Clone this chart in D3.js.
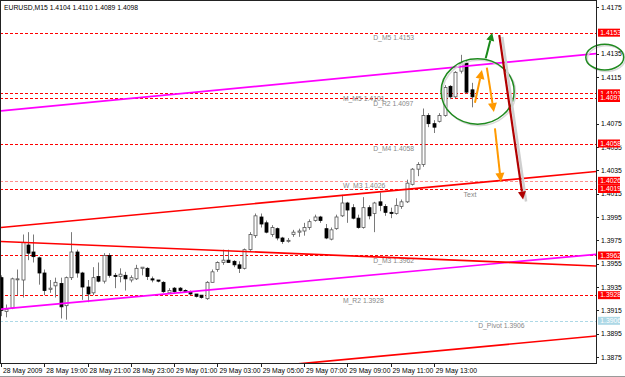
<!DOCTYPE html>
<html>
<head>
<meta charset="utf-8">
<script src="https://cdn.jsdelivr.net/npm/d3@7"></script>
<style>
    body { margin: 0; background: #fff; }
    text { font-family: "Liberation Sans", Arial, sans-serif; }
</style>
</head>
<body>
<svg id="chart" width="625" height="377"></svg>
<script>
// --- data -------------------------------------------------------------
const symbol = 'EURUSD,M15';

const opens = [1.3943,1.3914,1.3917,1.3942,1.3941,1.3971,1.3965,1.3960,1.3947,1.3933,
               1.3936,1.3938,1.3919,1.3943,1.3965,1.3947,1.3935,1.3930,1.3944,1.3940,
               1.3962,1.3945,1.3944,1.3945,1.3941,1.3942,1.3951,1.3951,1.3942,1.3941,
               1.3939,1.3930,1.3934,1.3934,1.3932,1.3931,1.3929,1.3928,1.3925,1.3939,
               1.3950,1.3956,1.3958,1.3957,1.3954,1.3951,1.3967,1.3979,1.3995,1.3990,
               1.3980,1.3985,1.3977,1.3975,1.3980,1.3982,1.3983,1.3986,1.3992,1.3995,
               1.3985,1.3976,1.3985,1.3996,1.4007,1.4003,1.3994,1.3986,1.4003,1.3998,
               1.4008,1.4004,1.3999,1.3998,1.4004,1.4008,1.4023,1.4036,1.4040,1.4082,
               1.4075,1.4077,1.4082,1.4107,1.4098,1.4120,1.4127,1.4104];
const highs = [1.3945,1.3920,1.3943,1.3950,1.3980,1.3982,1.3980,1.3961,1.3950,1.3941,
               1.3943,1.3943,1.3944,1.3982,1.3967,1.3948,1.3941,1.3952,1.3956,1.3964,
               1.3964,1.3947,1.3951,1.3948,1.3945,1.3954,1.3952,1.3952,1.3944,1.3941,
               1.3940,1.3934,1.3935,1.3935,1.3933,1.3932,1.3929,1.3928,1.3940,1.3950,
               1.3957,1.3967,1.3967,1.3958,1.3957,1.3968,1.3982,1.3998,1.3998,1.3992,
               1.3988,1.3986,1.3978,1.3977,1.3984,1.3985,1.3990,1.3993,1.3997,1.3996,
               1.3989,1.3986,1.3997,1.4014,1.4008,1.4006,1.3997,1.4012,1.4005,1.4008,
               1.4016,1.4006,1.4003,1.4011,1.4010,1.4027,1.4037,1.4042,1.4088,1.4084,
               1.4078,1.4084,1.4108,1.4108,1.4120,1.4134,1.4129,1.4110];
const lows =  [1.3910,1.3909,1.3916,1.3928,1.3926,1.3958,1.3956,1.3937,1.3928,1.3930,
               1.3926,1.3908,1.3907,1.3941,1.3943,1.3924,1.3922,1.3928,1.3939,1.3938,
               1.3943,1.3934,1.3939,1.3932,1.3939,1.3941,1.3945,1.3941,1.3939,1.3939,
               1.3930,1.3929,1.3930,1.3931,1.3930,1.3928,1.3926,1.3925,1.3924,1.3939,
               1.3948,1.3954,1.3956,1.3952,1.3947,1.3950,1.3966,1.3977,1.3986,1.3981,
               1.3978,1.3975,1.3972,1.3973,1.3978,1.3978,1.3979,1.3984,1.3991,1.3990,
               1.3976,1.3975,1.3984,1.3995,1.3990,1.3993,1.3985,1.3985,1.3993,1.3982,
               1.4000,1.3996,1.3994,1.3997,1.4002,1.4007,1.4022,1.4030,1.4038,1.4072,
               1.4067,1.4076,1.4081,1.4096,1.4097,1.4118,1.4101,1.4089];
const closes = [1.3915,1.3916,1.3942,1.3942,1.3973,1.3964,1.3961,1.3947,1.3932,1.3934,
                1.3939,1.3918,1.3943,1.3965,1.3947,1.3935,1.3929,1.3943,1.3940,1.3962,
                1.3945,1.3944,1.3946,1.3942,1.3943,1.3951,1.3952,1.3944,1.3941,1.3940,
                1.3931,1.3932,1.3931,1.3932,1.3931,1.3929,1.3927,1.3926,1.3939,1.3948,
                1.3956,1.3958,1.3956,1.3954,1.3951,1.3967,1.3980,1.3996,1.3989,1.3982,
                1.3986,1.3977,1.3974,1.3975,1.3982,1.3983,1.3986,1.3991,1.3995,1.3992,
                1.3977,1.3984,1.3995,1.4007,1.4001,1.3994,1.3986,1.4003,1.3996,1.4007,
                1.4005,1.3999,1.3998,1.4005,1.4008,1.4024,1.4036,1.4040,1.4082,1.4075,
                1.4072,1.4082,1.4106,1.4098,1.4119,1.4127,1.4102,1.4098];

// time axis: one label every 8 bars (2 hours of M15)
const timeLabels = ['28 May 2009','28 May 19:00','28 May 21:00','28 May 23:00','29 May 01:00',
                    '29 May 03:00','29 May 05:00','29 May 07:00','29 May 09:00','29 May 11:00','29 May 13:00'];
const timeLabelBars = [0,8,16,24,32,40,48,56,64,72,80];

// 1.4155 and 1.4095 sit fully under the level boxes, so they are not shown
const priceTicks = [1.3875,1.3895,1.3915,1.3935,1.3955,1.3975,1.3995,1.4015,1.4035,1.4055,
                    1.4075,1.4115,1.4135,1.4175];

// pivot levels
const levelNames  = ['D_M5','M_M5','D_R2','D_M4','W_M3','','D_M3','M_R2','D_Pivot'];
const levelPrices = [1.4153,1.4101,1.4097,1.4058,1.4026,1.4019,1.3962,1.3928,1.3906];
const levelTextBars = [68.8,63.2,68.8,68.8,63.2,null,68.8,63.2,88.2];

// trend lines [bar, price] -> [bar, price]
const trendKinds = ['magenta','magenta','red','red','red'];
const trendFrom = [[0,1.4086],[0,1.3916],[0,1.3986],[0,1.3974],[50,1.3867]];
const trendTo   = [[110,1.4135],[110,1.3963],[110,1.4034],[110,1.3953],[110,1.3893]];

// hand drawn annotations (bar, price)
const arrowKinds = ['green','orange','orange','orange','darkred'];
const arrowFrom = [[89.6,1.4131],[87.6,1.4093],[89.8,1.4123],[91.3,1.4071],[92.1,1.4151]];
const arrowTo   = [[90.8,1.4153],[88.9,1.4121],[91.1,1.4085],[92.4,1.4025],[96.5,1.4010]];
const circleCenters = [[88.1,1.41026],[111.6,1.4132]];
const circleRadii = [[6.75,0.0028],[3.5,0.0011]];   // bars, price

// --- drawing ----------------------------------------------------------
const W = 625, H = 377;
const plotRight = 596, plotBottom = 363;
const fs = '6.8px';

const svg = d3.select('#chart');
const x = d3.scaleLinear().domain([0, 110]).range([1, 596.1]);
const y = d3.scaleLinear().domain([1.3875, 1.4175]).range([357, 7]);

svg.append('rect').attr('width', W).attr('height', H).attr('fill', '#fff');

svg.append('defs').append('clipPath').attr('id', 'plot')
    .append('rect').attr('x', 0).attr('y', 0).attr('width', plotRight).attr('height', plotBottom);

const g = svg.append('g').attr('clip-path', 'url(#plot)');

// levels
let levels = levelPrices.map(function (p, i) {
    return {name: levelNames[i], price: p, bar: levelTextBars[i]};
});
function levelColor(d) {
    if (d.name === 'D_Pivot') return '#add8e6';
    if (d.name === 'W_M3') return '#ff8f8f';
    return '#ff0000';
}
g.selectAll('.level').data(levels).enter().append('line')
    .attr('x1', 0).attr('x2', plotRight)
    .attr('y1', d => Math.round(y(d.price)) + 0.5)
    .attr('y2', d => Math.round(y(d.price)) + 0.5)
    .attr('stroke', levelColor)
    .attr('stroke-width', 1)
    .attr('stroke-dasharray', '3,2');

g.selectAll('.levelText').data(levels.filter(d => d.name)).enter().append('text')
    .attr('x', d => x(d.bar))
    .attr('y', d => y(d.price) + 7.5)
    .attr('font-size', fs)
    .attr('fill', '#888')
    .text(d => d.name + ' ' + d.price.toFixed(4));

// candles
let candles = opens.map(function (o, i) {
    return {i: i, o: o, h: highs[i], l: lows[i], c: closes[i]};
});
let cg = g.selectAll('.candle').data(candles).enter().append('g');
cg.append('line')
    .attr('x1', d => Math.round(x(d.i)) + 0.5).attr('x2', d => Math.round(x(d.i)) + 0.5)
    .attr('y1', d => y(d.h)).attr('y2', d => y(d.l))
    .attr('stroke', '#7a7a7a').attr('stroke-width', 1);
cg.append('rect')
    .attr('x', d => Math.round(x(d.i)) - 1)
    .attr('width', 3)
    .attr('y', d => y(Math.max(d.o, d.c)))
    .attr('height', d => Math.max(1, Math.abs(y(d.o) - y(d.c))))
    .attr('fill', d => d.c >= d.o ? '#fff' : '#000')
    .attr('stroke', d => d.c >= d.o ? '#555' : '#000')
    .attr('stroke-width', 0.8);

// trend lines
g.selectAll('.trend').data(trendFrom.map((f, i) => ({f: f, t: trendTo[i], k: trendKinds[i]})))
    .enter().append('line')
    .attr('x1', d => x(d.f[0])).attr('y1', d => y(d.f[1]))
    .attr('x2', d => x(d.t[0])).attr('y2', d => y(d.t[1]))
    .attr('stroke', d => d.k === 'magenta' ? '#ff00ff' : '#ff0000')
    .attr('stroke-width', 1.7);

g.append('text').attr('x', x(85.5)).attr('y', y(1.4012))
    .attr('font-size', '7px').attr('fill', '#888').text('Text');

// annotations
const ann = svg.append('g');
circleCenters.forEach(function (c, i) {
    let rx = x(c[0] + circleRadii[i][0]) - x(c[0]);
    let ry = y(c[1] - circleRadii[i][1]) - y(c[1]);
    ann.append('ellipse').attr('cx', x(c[0]) + 1.5).attr('cy', y(c[1]) + 1.5)
        .attr('rx', rx).attr('ry', ry).attr('fill', 'none').attr('stroke', '#d8d8d8').attr('stroke-width', 1.5);
    ann.append('ellipse').attr('cx', x(c[0])).attr('cy', y(c[1]))
        .attr('rx', rx).attr('ry', ry).attr('fill', 'none').attr('stroke', '#1f8a1f').attr('stroke-width', 1.5);
});

const arrowColors = {green: '#1a8a1a', orange: '#ff9900', darkred: '#b00000'};
arrowFrom.forEach(function (f, i) {
    let x1 = x(f[0]), y1 = y(f[1]), x2 = x(arrowTo[i][0]), y2 = y(arrowTo[i][1]);
    let col = arrowColors[arrowKinds[i]];
    let ang = Math.atan2(y2 - y1, x2 - x1);
    let hl = arrowKinds[i] === 'orange' ? 9 : 8, hw = arrowKinds[i] === 'orange' ? 4.5 : 4;
    let bx = x2 - hl * Math.cos(ang), by = y2 - hl * Math.sin(ang);
    if (arrowKinds[i] === 'darkred') {
        ann.append('line').attr('x1', x1 + 3).attr('y1', y1 + 2).attr('x2', x2 + 3).attr('y2', y2 + 2)
            .attr('stroke', '#cfcfcf').attr('stroke-width', 2.5);
    }
    ann.append('line').attr('x1', x1).attr('y1', y1).attr('x2', bx).attr('y2', by)
        .attr('stroke', col).attr('stroke-width', arrowKinds[i] === 'darkred' ? 2.2 : 2);
    let px = -Math.sin(ang), py = Math.cos(ang);
    ann.append('path')
        .attr('d', 'M' + x2 + ',' + y2 + 'L' + (bx + px * hw) + ',' + (by + py * hw) + 'L' + (bx - px * hw) + ',' + (by - py * hw) + 'Z')
        .attr('fill', col);
});

// frame
svg.append('rect').attr('x', 0.5).attr('y', 0.5).attr('width', plotRight).attr('height', plotBottom)
    .attr('fill', 'none').attr('stroke', '#222').attr('stroke-width', 1);

// price axis
const pa = svg.append('g');
pa.selectAll('.tk').data(priceTicks).enter().append('line')
    .attr('x1', plotRight).attr('x2', plotRight + 3)
    .attr('y1', d => Math.round(y(d)) + 0.5).attr('y2', d => Math.round(y(d)) + 0.5)
    .attr('stroke', '#222');
pa.selectAll('.tl').data(priceTicks).enter().append('text')
    .attr('x', plotRight + 5).attr('y', d => y(d) + 2.5)
    .attr('font-size', fs).attr('fill', '#000')
    .text(d => d.toFixed(4));

let boxes = pa.selectAll('.box').data(levels).enter().append('g')
    .attr('transform', d => 'translate(' + (plotRight + 2) + ',' + (y(d.price) - 4) + ')');
boxes.append('rect').attr('width', 22).attr('height', 8)
    .attr('fill', d => d.name === 'D_Pivot' ? '#add8e6' : '#ff0000');
boxes.append('text').attr('x', 2.3).attr('y', 6.3)
    .attr('font-size', fs).attr('fill', '#fff')
    .text(d => d.price.toFixed(4));

// time axis
const ta = svg.append('g');
timeLabelBars.forEach(function (b, i) {
    ta.append('line').attr('x1', Math.round(x(b)) + 0.5).attr('x2', Math.round(x(b)) + 0.5)
        .attr('y1', plotBottom).attr('y2', plotBottom + 4).attr('stroke', '#222');
    ta.append('text').attr('x', x(b) + 2).attr('y', 373)
        .attr('font-size', fs).attr('fill', '#000').text(timeLabels[i]);
});

// header
svg.append('text').attr('x', 4).attr('y', 10).attr('font-size', fs).attr('fill', '#000')
    .text(symbol + '  ' + [opens[87], highs[87], lows[87], closes[87]].map(v => v.toFixed(4)).join(' '));

// bottom tab strip
svg.append('line').attr('x1', 0).attr('x2', W).attr('y1', 376.5).attr('y2', 376.5).attr('stroke', '#9a9a9a');
</script>
</body>
</html>
